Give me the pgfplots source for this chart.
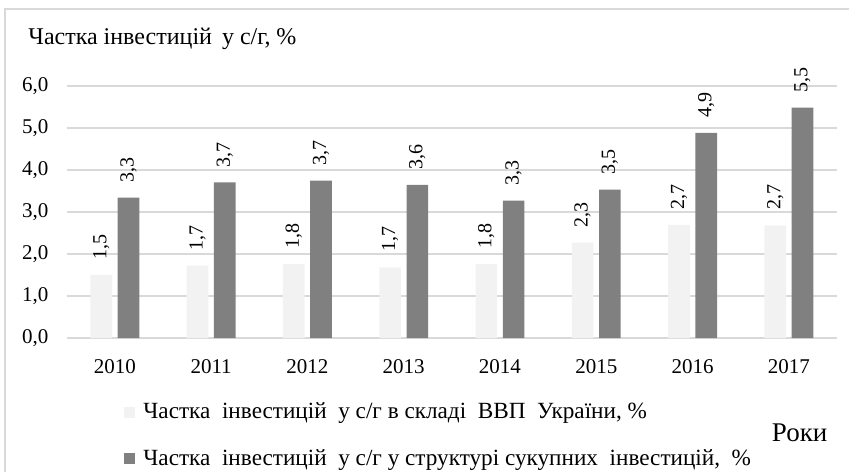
\documentclass[border=0pt]{standalone}
\usepackage{fontspec}
\setmainfont{Liberation Serif}
\usepackage{pgfplots}
\pgfplotsset{compat=1.18}
\definecolor{lightbar}{HTML}{F2F2F2}
\definecolor{darkbar}{HTML}{808080}
\definecolor{gridc}{HTML}{D9D9D9}
\begin{document}
\begin{tikzpicture}[x=1pt,y=1pt]
\path[use as bounding box] (0,0) rectangle (424.5,236);
\draw[gridc, line width=1pt] (2.5,0) -- (2.5,231.5) -- (424.5,231.5);
\node[anchor=base west, inner sep=0pt, font=\fontsize{12}{14}\selectfont] at (14,213.5) {Частка інвестицій\ \,у с/г, \%};
\begin{axis}[
  at={(33.35pt,67pt)}, anchor=south west,
  scale only axis, width=385.15pt, height=126.15pt,
  xmin=-0.5, xmax=7.5, ymin=0, ymax=6,
  ytick={0,1,2,3,4,5,6},
  xtick={0,1,2,3,4,5,6,7},
  xticklabels={2010,2011,2012,2013,2014,2015,2016,2017},
  axis line style={draw=none},
  major tick length=0pt,
  ymajorgrids, grid style={gridc, line width=0.9pt},
  /pgf/number format/.cd, use comma, fixed, fixed zerofill, precision=1, assume math mode=true,
  /pgfplots/.cd,
  tick label style={font=\fontsize{10.5}{12}\selectfont},
  yticklabel style={inner sep=0pt, xshift=-9pt},
  xticklabel style={inner sep=0pt, yshift=-10.5pt},
  ybar, bar width=0.225,
  nodes near coords,
  every node near coord/.append style={font=\fontsize{10}{12}\selectfont, rotate=90, anchor=west, inner ysep=0pt, inner xsep=7.5pt},
  xlabel={Роки},
  xlabel style={at={(axis description cs:0.988,-0.411)}, anchor=base east, yshift=0pt, inner sep=0pt, font=\fontsize{13.5}{15}\selectfont},
  legend style={at={(axis description cs:0.0744,-0.3865)}, anchor=west, draw=none, fill=none, inner sep=0pt,
    row sep=14pt, font=\fontsize{11.6}{13}\selectfont,
    nodes={inner sep=0pt}},
  legend cell align=left,
  legend image code/.code={\path[#1, draw=none] (0pt,-2.75pt) rectangle (5.5pt,2.75pt);},
]
\addplot[fill=lightbar, draw=none, bar shift=-0.1415] coordinates {
  (0,1.50) (1,1.72) (2,1.76) (3,1.68) (4,1.76) (5,2.27) (6,2.69) (7,2.68)};
\addplot[fill=darkbar, draw=none, bar shift=0.1415] coordinates {
  (0,3.34) (1,3.70) (2,3.74) (3,3.64) (4,3.27) (5,3.53) (6,4.88) (7,5.48)};
\legend{{\hspace{4pt}Частка\ \ інвестицій\ \ у с/г в складі\ \ ВВП\ \ України, \%},
        {\hspace{4pt}Частка\ \ інвестицій\ \ у с/г у структурі сукупних\ \ інвестицій,\ \ \%}}
\end{axis}
\end{tikzpicture}
\end{document}
